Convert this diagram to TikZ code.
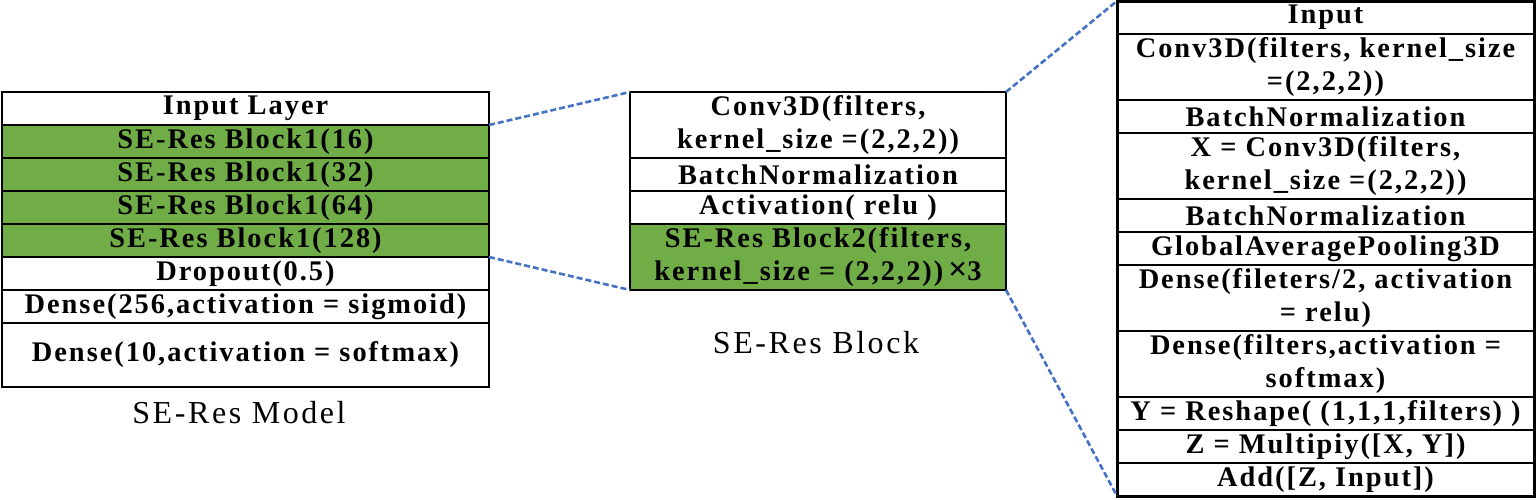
\documentclass[tikz,border=0pt]{standalone}
\usepackage{fontspec}
\setmainfont{Liberation Serif}
\newfontfamily\cellfont[LetterSpace=7]{Liberation Serif}
\newfontfamily\capfont[LetterSpace=8]{Liberation Serif}
\definecolor{segreen}{HTML}{70AD47}
\definecolor{zblue}{HTML}{4472C4}
\begin{document}
\begin{tikzpicture}[x=0.5pt,y=-0.5pt,
  cell/.style={draw=black, line width=1pt, anchor=north west, inner sep=0pt, outer sep=0pt,
    align=center, font=\cellfont\bfseries\fontsize{14.2}{16.5}\selectfont},
  gcell/.style={cell, fill=segreen},
  lw/.style={minimum width=243.5pt},
  mw/.style={minimum width=188pt},
  rw/.style={minimum width=208.5pt},
  h1/.style={minimum height=16.5pt},
  h2/.style={minimum height=33pt},
  h3/.style={minimum height=32pt},
  zoomline/.style={draw=zblue, line width=1.3pt, dash pattern=on 3pt off 1.5pt},
  caption/.style={font=\capfont\fontsize{16}{18}\selectfont, inner sep=0pt},
]
\useasboundingbox (0,0) rectangle (1536,499);
% left table
\node[cell,lw,h1] (inl) at (2,92) {Input Layer};
\node[gcell,lw,h1] (b16) at (2,125) {SE-Res Block1(16)};
\node[gcell,lw,h1] (b32) at (2,158) {SE-Res Block1(32)};
\node[gcell,lw,h1] (b64) at (2,191) {SE-Res Block1(64)};
\node[gcell,lw,h1] (b128) at (2,224) {SE-Res Block1(128)};
\node[cell,lw,h1] (drop) at (2,257) {Dropout(0.5)};
\node[cell,lw,h1] (d256) at (2,290) {Dense(256,activation = sigmoid)};
\node[cell,lw,h3] (d10) at (2,323) {Dense(10,activation = softmax)};
\node[caption] (cap1) at (239,413) {SE-Res Model};
% middle table
\node[cell,mw,h2] (mconv) at (630,92) {Conv3D(filters,\\kernel\_size =(2,2,2))};
\node[cell,mw,h1] (mbn) at (630,158) {BatchNormalization};
\node[cell,mw,h1] (mact) at (630,191) {Activation( relu )};
\node[gcell,mw,h2] (mb2) at (630,224) {SE-Res Block2(filters,\\kernel\_size = (2,2,2))\,{\fontsize{17}{16.5}\selectfont ×}3};
\node[caption] (cap2) at (816,343) {SE-Res Block};
% right table
\node[cell,rw,h1] (rin) at (1117,1) {Input};
\node[cell,rw,h2] (rconv) at (1117,34) {Conv3D(filters, kernel\_size\\=(2,2,2))};
\node[cell,rw,h1] (rbn1) at (1117,100) {BatchNormalization};
\node[cell,rw,h2] (rx) at (1117,133) {X = Conv3D(filters,\\kernel\_size =(2,2,2))};
\node[cell,rw,h1] (rbn2) at (1117,199) {BatchNormalization};
\node[cell,rw,h1] (rgap) at (1117,232) {GlobalAveragePooling3D};
\node[cell,rw,h2] (rd1) at (1117,265) {Dense(fileters/2, activation\\= relu)};
\node[cell,rw,h2] (rd2) at (1117,331) {Dense(filters,activation =\\softmax)};
\node[cell,rw,h1] (ry) at (1117,397) {Y = Reshape( (1,1,1,filters) )};
\node[cell,rw,h1] (rz) at (1117,430) {Z = Multipiy([X, Y])};
\node[cell,rw,h1] (radd) at (1117,463) {Add([Z, Input])};
\draw[line width=1.5pt] (rin.north west) rectangle (radd.south east);
% zoom connectors
\draw[zoomline] (inl.south east) -- (mconv.north west);
\draw[zoomline] (b128.south east) -- (mb2.south west);
\draw[zoomline] (mconv.north east) -- (rin.north west);
\draw[zoomline] (mb2.south east) -- (radd.south west);
\end{tikzpicture}
\end{document}
